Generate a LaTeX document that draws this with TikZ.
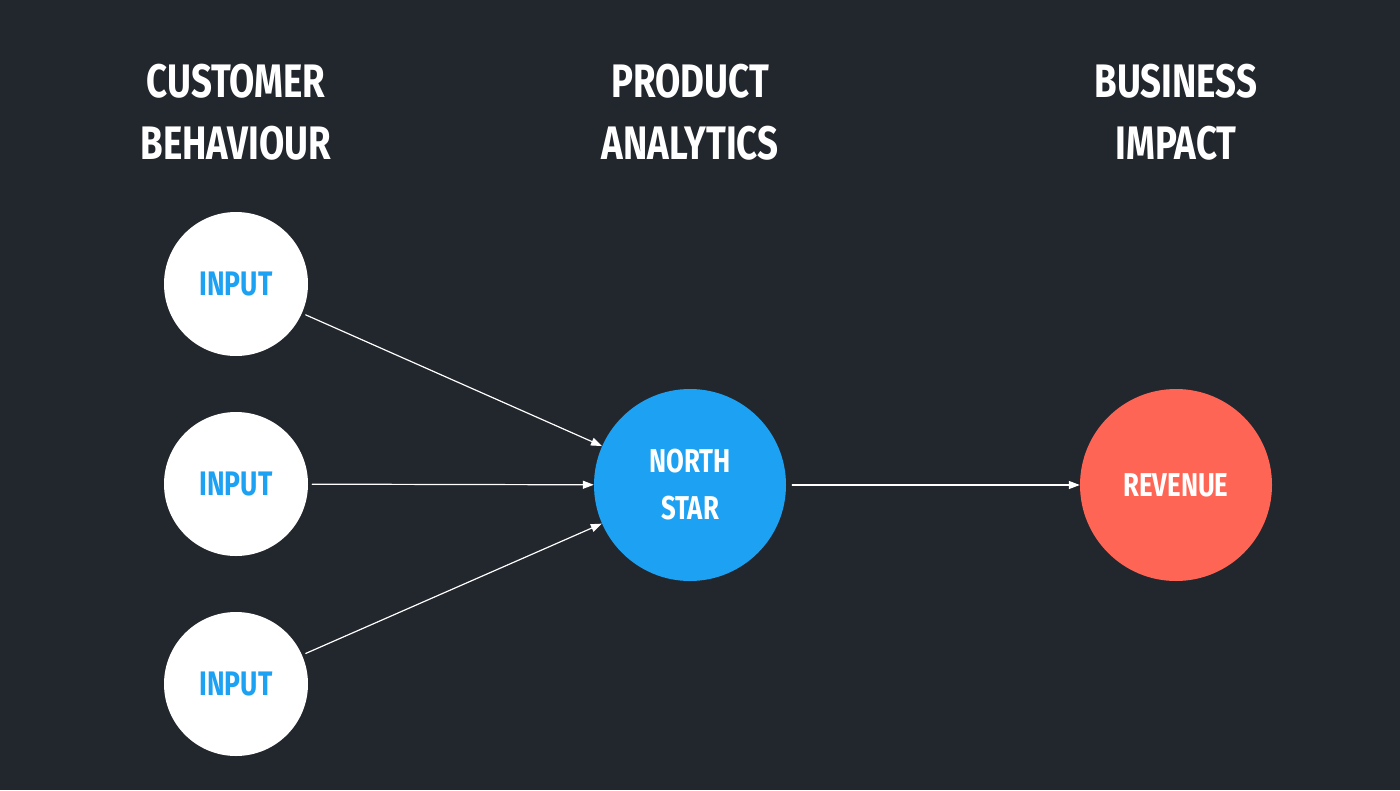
\documentclass[tikz,border=0pt]{standalone}
\usepackage{fontspec}
\setmainfont[FakeStretch=0.78]{Fira Sans}
\usepackage{tikz}
\usetikzlibrary{arrows.meta}
\definecolor{bgdark}{HTML}{22262D}
\definecolor{starblue}{HTML}{1DA1F2}
\definecolor{revred}{HTML}{FF6555}
\tikzset{
  heading/.style={text=white,font=\fontsize{47}{62}\selectfont\bfseries,align=center},
  inputnode/.style={circle,fill=white,minimum size=144pt,inner sep=0pt,text=starblue,font=\fontsize{34}{40}\selectfont\bfseries},
  bignode/.style={circle,minimum size=192pt,inner sep=0pt,text=white,font=\fontsize{33}{47}\selectfont\bfseries,align=center},
  link/.style={->,draw=white,line width=1.2pt,shorten <=4pt}
}
\begin{document}
\begin{tikzpicture}[line cap=round,line join=round,>={Triangle[length=11pt,width=8pt]},x=1pt,y=-1pt]
\fill [bgdark] (0,0) rectangle (1400,790);
\useasboundingbox (0,0) rectangle (1400,790);
\node [heading] (hcust) at (236,112) {CUSTOMER\\BEHAVIOUR};
\node [heading] (hprod) at (690,112) {PRODUCT\\ANALYTICS};
\node [heading] (hbus) at (1176,112) {BUSINESS\\IMPACT};
\node [inputnode] (inA) at (236,284) {INPUT};
\node [inputnode] (inB) at (236,484) {INPUT};
\node [inputnode] (inC) at (236,684) {INPUT};
\node [bignode,fill=starblue] (north) at (690,485) {NORTH\\STAR};
\node [bignode,fill=revred] (rev) at (1176,485) {REVENUE};
\draw [link] (inA) -- (north);
\draw [link] (inB) -- (north);
\draw [link] (inC) -- (north);
\draw [link,shorten <=6pt] (north) -- (rev);
\end{tikzpicture}
\end{document}
